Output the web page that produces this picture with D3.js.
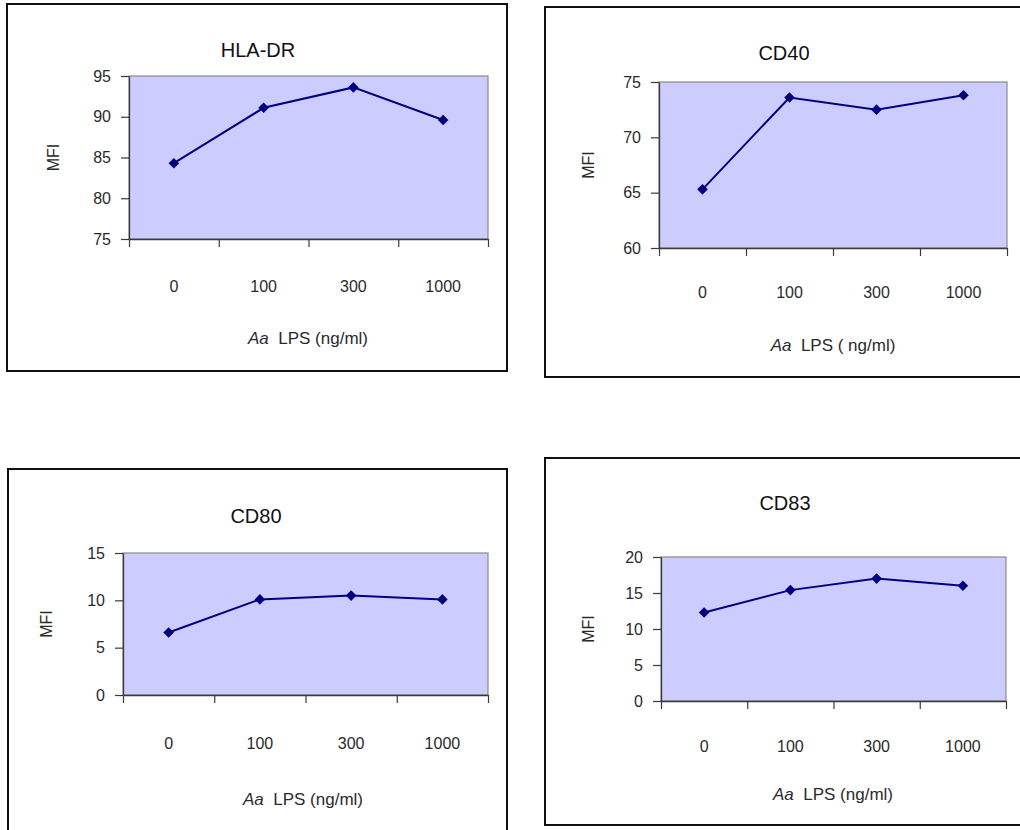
<!DOCTYPE html>
<html>
<head>
<meta charset="utf-8">
<script src="https://cdn.jsdelivr.net/npm/d3@7"></script>
<style>
  html, body { margin: 0; padding: 0; background: #fff; }
  svg { display: block; }
</style>
</head>
<body>
<svg id="chart" width="1020" height="830"></svg>
<script>
// ---- Data ----
const categories = ["0", "100", "300", "1000"];
const hlaDR = [84.3, 91.1, 93.6, 89.6];
const cd40 = [65.3, 73.6, 72.5, 73.8];
const cd80 = [6.6, 10.1, 10.5, 10.1];
const cd83 = [12.3, 15.4, 17.0, 16.0];
const yTicksHLA = [75, 80, 85, 90, 95];
const yTicksCD40 = [60, 65, 70, 75];
const yTicksCD80 = [0, 5, 10, 15];
const yTicksCD83 = [0, 5, 10, 15, 20];
const titles = ["HLA-DR", "CD40", "CD80", "CD83"];
const yLabel = "MFI";
const xTitles = [["Aa", "  LPS (ng/ml)"], ["Aa", "  LPS ( ng/ml)"], ["Aa", "  LPS (ng/ml)"], ["Aa", "  LPS (ng/ml)"]];

// ---- Layout (positions / styles) ----
const panels = [
  { values: hlaDR, ticks: yTicksHLA, frame: {x: 7, y: 4, w: 500, h: 367},
    plot: {l: 129, t: 76, r: 488, b: 239}, title: {x: 258, y: 50}, xLabelY: 286, xTitle: {x: 308, y: 338}, mfiX: 53 },
  { values: cd40, ticks: yTicksCD40, frame: {x: 545, y: 7, w: 490, h: 370},
    plot: {l: 659, t: 82, r: 1007, b: 248}, title: {x: 784, y: 53}, xLabelY: 292, xTitle: {x: 833, y: 345}, mfiX: 588 },
  { values: cd80, ticks: yTicksCD80, frame: {x: 8, y: 469, w: 499, h: 400},
    plot: {l: 123, t: 553, r: 488, b: 695}, title: {x: 256, y: 516}, xLabelY: 743, xTitle: {x: 303, y: 799}, mfiX: 46 },
  { values: cd83, ticks: yTicksCD83, frame: {x: 545, y: 458, w: 490, h: 367},
    plot: {l: 661, t: 557, r: 1006, b: 701}, title: {x: 785, y: 503}, xLabelY: 746, xTitle: {x: 833, y: 794}, mfiX: 588 }
];

const svg = d3.select("#chart");
const font = "'Liberation Sans', Arial, sans-serif";
const axisColor = "#3a3a3a";
const textColor = "#2a2a2a";

panels.forEach((p, i) => {
  const g = svg.append("g");
  // frame
  g.append("rect")
    .attr("x", p.frame.x).attr("y", p.frame.y)
    .attr("width", p.frame.w).attr("height", p.frame.h)
    .attr("fill", "none").attr("stroke", "#111").attr("stroke-width", 2);

  const x = d3.scaleBand().domain(categories).range([p.plot.l, p.plot.r]).padding(0);
  const xEdge = d3.scaleLinear().domain([0, categories.length]).range([p.plot.l, p.plot.r]);
  const y = d3.scaleLinear().domain(d3.extent(p.ticks)).range([p.plot.b, p.plot.t]);

  // plot area
  g.append("rect")
    .attr("x", p.plot.l).attr("y", p.plot.t)
    .attr("width", p.plot.r - p.plot.l).attr("height", p.plot.b - p.plot.t)
    .attr("fill", "#ccccff").attr("stroke", "#8a8a8a").attr("stroke-width", 1.2);

  // y axis
  const yAxis = g.append("g")
    .attr("transform", `translate(${p.plot.l},0)`)
    .call(d3.axisLeft(y).tickValues(p.ticks).tickSize(8).tickSizeOuter(0).tickPadding(10));
  yAxis.select(".domain").attr("stroke", axisColor).attr("stroke-width", 1.3);
  yAxis.selectAll(".tick line").attr("stroke", axisColor).attr("stroke-width", 1.2);
  yAxis.selectAll(".tick text").attr("font-family", font).attr("font-size", 16).attr("fill", textColor);

  // x axis (ticks at category boundaries)
  const xAxis = g.append("g")
    .attr("transform", `translate(0,${p.plot.b})`)
    .call(d3.axisBottom(xEdge).tickValues(d3.range(categories.length + 1)).tickFormat("").tickSize(8).tickSizeOuter(0));
  xAxis.select(".domain").attr("stroke", axisColor).attr("stroke-width", 1.3);
  xAxis.selectAll(".tick line").attr("stroke", axisColor).attr("stroke-width", 1.2);

  // x category labels
  g.selectAll(".xlab").data(categories).enter().append("text")
    .attr("x", d => x(d) + x.bandwidth() / 2)
    .attr("y", p.xLabelY).attr("dy", "0.36em")
    .attr("text-anchor", "middle")
    .attr("font-family", font).attr("font-size", 16).attr("fill", textColor)
    .text(d => d);

  // line
  const line = d3.line().x((d, j) => x(categories[j]) + x.bandwidth() / 2).y(d => y(d));
  g.append("path").datum(p.values)
    .attr("d", line).attr("fill", "none").attr("stroke", "#000080").attr("stroke-width", 2);

  // markers
  g.selectAll(".mk").data(p.values).enter().append("path")
    .attr("d", d3.symbol().type(d3.symbolSquare).size(56))
    .attr("transform", (d, j) => `translate(${x(categories[j]) + x.bandwidth() / 2},${y(d)}) rotate(45)`)
    .attr("fill", "#000080");

  // title
  g.append("text")
    .attr("x", p.title.x).attr("y", p.title.y).attr("dy", "0.36em")
    .attr("text-anchor", "middle")
    .attr("font-family", font).attr("font-size", 20).attr("fill", "#111")
    .text(titles[i]);

  // y label
  const midY = (p.plot.t + p.plot.b) / 2;
  g.append("text")
    .attr("transform", `translate(${p.mfiX},${midY}) rotate(-90)`)
    .attr("dy", "0.36em")
    .attr("text-anchor", "middle")
    .attr("font-family", font).attr("font-size", 16).attr("fill", textColor)
    .text(yLabel);

  // x title
  const xt = g.append("text")
    .attr("x", p.xTitle.x).attr("y", p.xTitle.y).attr("dy", "0.36em")
    .attr("text-anchor", "middle")
    .attr("font-family", font).attr("font-size", 17).attr("fill", textColor)
    .attr("xml:space", "preserve").style("white-space", "pre");
  xt.append("tspan").attr("font-style", "italic").text(xTitles[i][0]);
  xt.append("tspan").text(xTitles[i][1]);
});
</script>
</body>
</html>
